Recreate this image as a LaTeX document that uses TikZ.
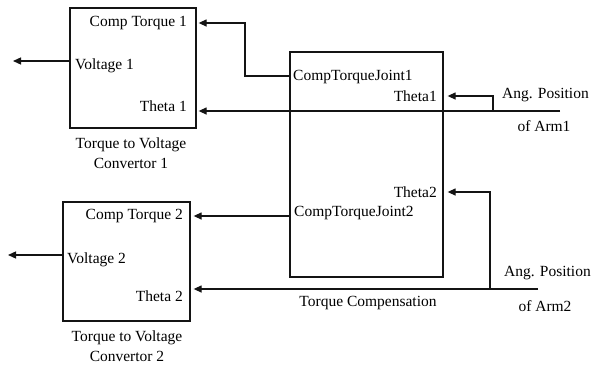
\documentclass[tikz,border=0pt]{standalone}
\usepackage{fontspec}
\setmainfont{Liberation Serif}
\usepackage{tikz}
\usetikzlibrary{positioning, arrows.meta, calc}
\definecolor{linegray}{RGB}{20, 20, 20}

\tikzset{
    block/.style={draw=linegray, line width=1.3pt, fill=white, inner sep=0pt},
    sig/.style={draw=linegray, line width=1.3pt, -{Triangle[length=8pt, width=7pt]}},
    wire/.style={draw=linegray, line width=1.3pt},
    lbl/.style={inner sep=1pt, font=\fontsize{15.5}{20}\selectfont}
}

\begin{document}
\begin{tikzpicture}[x=1pt, y=-1pt]
    \useasboundingbox[fill=white] (0,0) rectangle (595,367);

    % Blocks
    \node[block, minimum width=126pt, minimum height=120pt] (tv1) at (133,68) {};
    \node[block, minimum width=127pt, minimum height=119pt] (tv2) at (126.5,261.5) {};
    \node[block, minimum width=153pt, minimum height=225pt] (tc) at (366.5,164.5) {};

    % Port labels
    \node[lbl, anchor=east] (ct1) at (188,23) {Comp Torque 1};
    \node[lbl, anchor=west] (v1) at (74,66) {Voltage 1};
    \node[lbl, anchor=east] (th1) at (188,106) {Theta 1};
    \node[lbl, anchor=east] (ct2) at (184,216) {Comp Torque 2};
    \node[lbl, anchor=west] (v2) at (66,260) {Voltage 2};
    \node[lbl, anchor=east] (th2) at (184,296) {Theta 2};
    \node[lbl, anchor=west] (ctj1) at (292,77) {CompTorqueJoint1};
    \node[lbl, anchor=east] (tha) at (438,96) {Theta1};
    \node[lbl, anchor=east] (thb) at (438,192) {Theta2};
    \node[lbl, anchor=west] (ctj2) at (293,213) {CompTorqueJoint2};

    % Captions
    \node[lbl, align=center] (cap1) at (131,153) {Torque to Voltage\\Convertor 1};
    \node[lbl, align=center] (cap2) at (127,346) {Torque to Voltage\\Convertor 2};
    \node[lbl] (tccap) at (368,303) {Torque Compensation};
    \node[lbl, anchor=west] (ang1) at (501,95) {Ang. Position};
    \node[lbl] (arm1lbl) at (544,126) {of Arm1};
    \node[lbl, anchor=west] (ang2) at (503,273) {Ang. Position};
    \node[lbl] (arm2lbl) at (545,306) {of Arm2};

    % Free ends and bends
    \coordinate (v1out) at (13,61);
    \coordinate (v2out) at (8,255);
    \coordinate (arm1) at (560,111);
    \coordinate (arm2) at (538,289);
    \coordinate (br1) at (493,111);
    \coordinate (br2) at (490,289);
    \coordinate (bend1) at (245,76);

    % Connectors
    \draw[sig] (tv1.west |- v1out) -- (v1out);
    \draw[sig] (tv2.west |- v2out) -- (v2out);
    \draw[sig] (tc.west |- bend1) -- (bend1) |- ($(tv1.east |- ct1)+(2,0)$);
    \draw[sig] (tc.west |- 0,216) -- ($(tv2.east |- 0,216)+(3,0)$);
    \draw[sig] (arm1) -- ($(tv1.east |- arm1)+(2,0)$);
    \draw[sig] (arm2) -- ($(tv2.east |- arm2)+(3,0)$);
    \draw[sig] (br1) |- ($(tc.east |- tha)+(4,0)$);
    \draw[sig] (br2) |- ($(tc.east |- thb)+(4,0)$);
\end{tikzpicture}
\end{document}
